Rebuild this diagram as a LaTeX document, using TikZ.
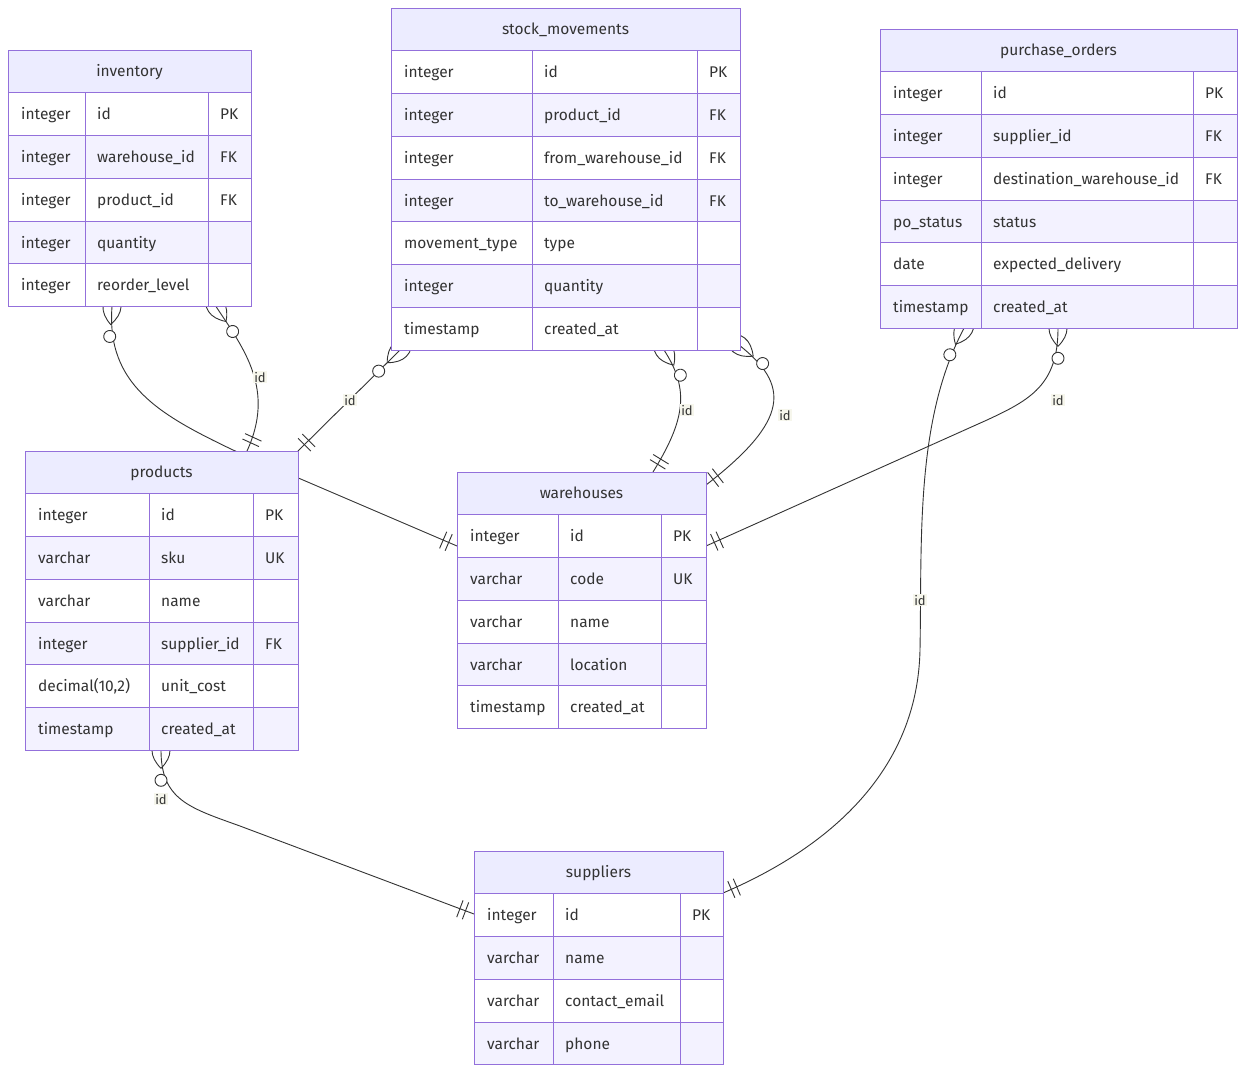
\documentclass[tikz,border=0pt]{standalone}
\usepackage{fontspec}
\setmainfont{Fira Sans}
\usetikzlibrary{calc,fit,decorations.markings}
\definecolor{hdr}{HTML}{ECECFF}
\definecolor{rowe}{HTML}{F3F2FF}
\definecolor{bord}{HTML}{9370DB}
\definecolor{txt}{HTML}{333333}
\definecolor{lblbg}{HTML}{F6F6EC}
\pgfdeclarelayer{bg}
\pgfsetlayers{bg,main}
\tikzset{
  cell/.style={draw=bord, line width=1pt},
  celltxt/.style={text=txt, font=\fontsize{15.5}{18}\selectfont, inner sep=0pt, anchor=base west},
  titletxt/.style={text=txt, font=\fontsize{15.5}{18}\selectfont, inner sep=0pt, anchor=base},
  lbl/.style={text=txt, fill=lblbg, font=\fontsize{13}{15}\selectfont, inner sep=1pt},
  rel/.style={draw=txt, line width=0.9pt, postaction={decorate},
    decoration={markings,
      mark=at position 0.0001 with {\draw[txt, line width=0.9pt] (-18,0) .. controls (-6,12) and (6,12) .. (18,0) .. controls (6,-12) and (-6,-12) .. (-18,0);
        \draw[txt, fill=white, line width=0.9pt] (30,0) circle[radius=6pt];},
      mark=at position 0.9999 with {\draw[txt, line width=0.9pt] (-9,-9) -- (-9,9) (-15,-9) -- (-15,9);}}}
}
% #1 name, #2 title, #3 left, #4 top, #5 col1, #6 col2, #7 right, #8 rows, #9 nrows
\newcommand\ertable[9]{%
  \pgfmathsetmacro\ybot{#4+42.75*(#9+1)}%
  \pgfmathsetmacro\yh{#4+42.75}%
  \fill[hdr] (#3,#4) rectangle (#7,\yh);
  \node[titletxt] (#1-title) at ({(#3+#7)/2},{#4+26.7}) {#2};
  \foreach \ty/\nm/\ky [count=\i] in {#8} {
    \pgfmathsetmacro\ya{#4+42.75*\i}
    \pgfmathsetmacro\yb{\ya+42.75}
    \pgfmathsetmacro\yt{\ya+27}
    \ifodd\i\relax \def\rc{white}\else \def\rc{rowe}\fi
    \filldraw[cell, fill=\rc] (#3,\ya) rectangle (#5,\yb);
    \filldraw[cell, fill=\rc] (#5,\ya) rectangle (#6,\yb);
    \filldraw[cell, fill=\rc] (#6,\ya) rectangle (#7,\yb);
    \node[celltxt] (#1-t\i) at ({#3+13},\yt) {\ty};
    \node[celltxt] (#1-n\i) at ({#5+12},\yt) {\nm};
    \node[celltxt] (#1-k\i) at ({#6+12},\yt) {\ky};
  }
  \draw[cell] (#3,#4) rectangle (#7,\ybot);
  \node[fit={(#3,#4) (#7,\ybot)}, inner sep=0pt, outer sep=0pt] (#1) {};
}
\begin{document}
\begin{tikzpicture}[x=1pt,y=-1pt]
\begin{pgfonlayer}{bg}
\fill[white] (0,0) rectangle (1245,1072);
\end{pgfonlayer}
\useasboundingbox (0,0) rectangle (1245,1072);

\ertable{inventory}{inventory}{8}{50}{85}{208}{251}{integer/id/PK, integer/warehouse\_id/FK, integer/product\_id/FK, integer/quantity/{}, integer/reorder\_level/{}}{5}
\ertable{stock}{stock\_movements}{391}{8}{532}{697}{740}{integer/id/PK, integer/product\_id/FK, integer/from\_warehouse\_id/FK, integer/to\_warehouse\_id/FK, movement\_type/type/{}, integer/quantity/{}, timestamp/created\_at/{}}{7}
\ertable{purchase}{purchase\_orders}{880}{29}{981}{1193}{1237}{integer/id/PK, integer/supplier\_id/FK, integer/destination\_warehouse\_id/FK, po\_status/status/{}, date/expected\_delivery/{}, timestamp/created\_at/{}}{6}
\ertable{products}{products}{25}{451}{149}{253}{298}{integer/id/PK, varchar/sku/UK, varchar/name/{}, integer/supplier\_id/FK, {decimal(10,2)}/unit\_cost/{}, timestamp/created\_at/{}}{6}
\ertable{warehouses}{warehouses}{457}{472}{558}{661}{706}{integer/id/PK, varchar/code/UK, varchar/name/{}, varchar/location/{}, timestamp/created\_at/{}}{5}
\ertable{suppliers}{suppliers}{474}{851}{553}{680}{723}{integer/id/PK, varchar/name/{}, varchar/contact\_email/{}, varchar/phone/{}}{4}

% connector end points on the table borders
\coordinate (aS) at ($(inventory.south west)+(104,0)$);
\coordinate (aE) at ($(warehouses.north west)+(0,74)$);
\coordinate (bS) at ($(inventory.south west)+(208,0)$);
\coordinate (bE) at ($(products.north west)+(222,0)$);
\coordinate (cS) at ($(stock.south west)+(9,0)$);
\coordinate (cE) at (products.north east);
\coordinate (dS) at ($(stock.south west)+(273,0)$);
\coordinate (dE) at ($(warehouses.north west)+(196,0)$);
\coordinate (eS) at ($(stock.south east)+(-1,-5)$);
\coordinate (eE) at ($(warehouses.north east)+(0,13)$);
\coordinate (fS) at ($(purchase.south west)+(84,0)$);
\coordinate (fE) at ($(suppliers.north east)+(0,42)$);
\coordinate (gS) at ($(purchase.south west)+(178,0)$);
\coordinate (gE) at ($(warehouses.north east)+(0,74)$);
\coordinate (hS) at ($(products.south west)+(136,0)$);
\coordinate (hE) at ($(suppliers.north west)+(0,63)$);

\begin{pgfonlayer}{bg}
\path[rel] (aS) .. controls (106,385) and (160,415) .. (233,450) -- (aE);
\path[rel] (bS) .. controls (245,350) and (275,390) .. (bE);
\path[rel] (cS) -- (cE);
\path[rel] (dS) .. controls (690,390) and (685,420) .. (dE);
\path[rel] (eS) .. controls (790,385) and (790,420) .. (eE);
\path[rel] (fS) .. controls (915,420) and (922,540) .. (920,650) .. controls (917,790) and (800,860) .. (fE);
\path[rel] (gS) .. controls (1058,385) and (1030,400) .. (987,420) -- (gE);
\path[rel] (hS) .. controls (161,800) and (190,808) .. (240,826) -- (hE);
\end{pgfonlayer}

\node[lbl] (lb) at (260,377) {id};
\node[lbl] (lc) at (350,400) {id};
\node[lbl] (ld) at (687,410) {id};
\node[lbl] (le) at (785,415) {id};
\node[lbl] (lf) at (920,600) {id};
\node[lbl] (lg) at (1058,400) {id};
\node[lbl] (lh) at (161,799) {id};
\end{tikzpicture}
\end{document}
